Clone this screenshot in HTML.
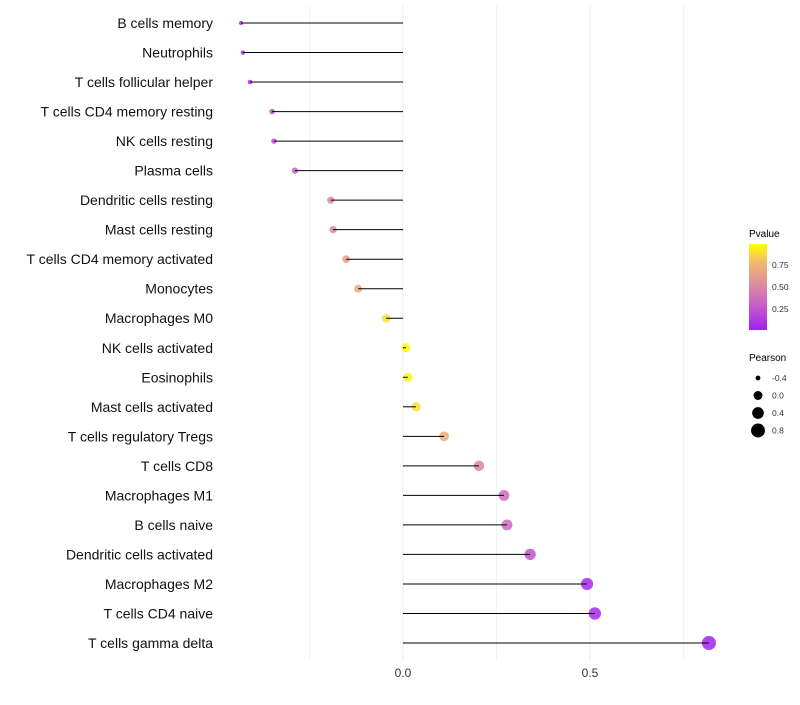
<!DOCTYPE html>
<html><head><meta charset="utf-8"><style>
body{margin:0;background:#fff;font-family:"Liberation Sans",sans-serif}
</style></head><body>
<svg id="chart" width="800" height="700">
<defs><linearGradient id="pg" x1="0" y1="1" x2="0" y2="0">
<stop offset="0" stop-color="#A020F0"/><stop offset="0.3" stop-color="#C860C8"/><stop offset="0.55" stop-color="#E0909A"/><stop offset="0.78" stop-color="#F2B870"/><stop offset="1" stop-color="#FFFF00"/></linearGradient></defs>
<g id="grid"></g><g id="points"></g><g id="stems"></g><g id="ylabels"></g><g id="xlabels"></g>
<g>
<text x="749" y="237" font-size="10">Pvalue</text>
<rect x="749" y="244" width="18" height="86" fill="url(#pg)"/>
<text x="772" y="268" font-size="8.5" fill="#333">0.75</text>
<text x="772" y="290" font-size="8.5" fill="#333">0.50</text>
<text x="772" y="312" font-size="8.5" fill="#333">0.25</text>
</g>
<g id="sizeleg">
<text x="749" y="361" font-size="10">Pearson</text>
</g>
</svg>
<script>
const categories=["B cells memory","Neutrophils","T cells follicular helper","T cells CD4 memory resting","NK cells resting","Plasma cells","Dendritic cells resting","Mast cells resting","T cells CD4 memory activated","Monocytes","Macrophages M0","NK cells activated","Eosinophils","Mast cells activated","T cells regulatory  Tregs","T cells CD8","Macrophages M1","B cells naive","Dendritic cells activated","Macrophages M2","T cells CD4 naive","T cells gamma delta"];
const pearson=[-0.433,-0.428,-0.409,-0.350,-0.345,-0.289,-0.193,-0.187,-0.152,-0.120,-0.045,0.008,0.013,0.035,0.110,0.203,0.270,0.278,0.340,0.492,0.513,0.818];
const pvalues=[0.03,0.05,0.08,0.2,0.2,0.3,0.5,0.5,0.62,0.68,0.9,0.98,0.97,0.9,0.72,0.5,0.35,0.35,0.25,0.05,0.05,0.01];
const xTicks=[0,0.5];
const sizeTicks=[-0.4,0.0,0.4,0.8];
const ns="http://www.w3.org/2000/svg";
const X=v=>403+v*374;
const Y=i=>23+i*(620/21);
const R=v=>Math.sqrt(4+(v+0.45)*(49-4)/1.27);
function col(p){const st=[[0,[160,32,240]],[0.3,[200,96,200]],[0.55,[224,144,154]],[0.78,[242,184,112]],[1,[255,255,0]]];
for(let k=1;k<st.length;k++){if(p<=st[k][0]){const a=st[k-1],b=st[k],t=(p-a[0])/(b[0]-a[0]);return`rgb(${a[1].map((c,j)=>Math.round(c+(b[1][j]-c)*t)).join(",")})`;}}return"rgb(255,255,0)";}
function mk(t,at,par){const e=document.createElementNS(ns,t);for(const k in at)e.setAttribute(k,at[k]);document.getElementById(par).appendChild(e);return e;}
[-0.25,0,0.25,0.5,0.75].forEach(v=>{const l=mk("line",{x1:X(v),x2:X(v),y1:5,y2:660,stroke:"#ebebeb","stroke-width":Math.abs(v*4)%2==0?1:0.6},"grid");

});
xTicks.forEach(v=>{const t=mk("text",{x:X(v),y:677,"font-size":12,"text-anchor":"middle",fill:"#333"},"xlabels");t.textContent=v.toFixed(1);

});
categories.forEach((c,i)=>{const y=Y(i);
const t=mk("text",{x:213,y:y+5,"font-size":14,"text-anchor":"end",fill:"#111"},"ylabels");t.textContent=c;


const p=mk("circle",{cx:X(pearson[i]),cy:y,r:R(pearson[i]),fill:col(pvalues[i]),"fill-opacity":0.85},"points");


const l=mk("line",{x1:X(0),x2:X(pearson[i]),y1:y,y2:y,stroke:"#000","stroke-width":1},"stems");

});
sizeTicks.forEach((v,i)=>{const y=378+i*17.5;
const c=mk("circle",{cx:758,cy:y,r:R(v),fill:"#000"},"sizeleg");


const t=mk("text",{x:772,y:y+3,"font-size":8.5,fill:"#333"},"sizeleg");t.textContent=v.toFixed(1);

});
</script>
</body></html>
